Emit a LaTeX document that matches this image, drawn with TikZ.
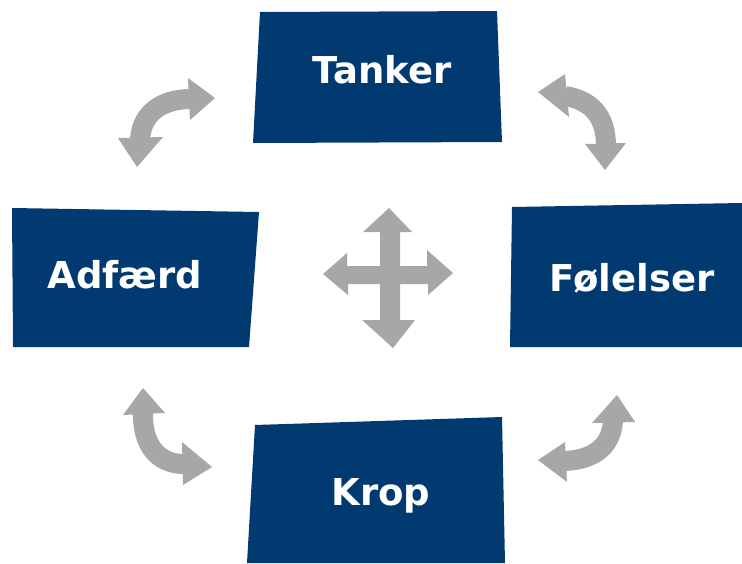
\documentclass[tikz,border=0pt]{standalone}
\usepackage{fontspec}
\setmainfont{DejaVu Sans}
\definecolor{boxblue}{RGB}{0,58,112}
\definecolor{arrowgray}{RGB}{166,168,166}
\begin{document}
\begin{tikzpicture}[x=1pt,y=-1pt,
  box/.style={fill=boxblue},
  lbl/.style={text=white,font=\fontsize{37}{40}\selectfont\bfseries,anchor=base,inner sep=0pt},
  shaft/.style={draw=arrowgray,line width=20pt,line cap=butt},
  head/.style={fill=arrowgray}]
\useasboundingbox (0,0) rectangle (742,563);
\fill[white] (0,0) rectangle (742,563);
% boxes
\fill[box] (260,12) -- (497,11) -- (502,142) -- (253,143) -- cycle;
\fill[box] (12,208) -- (259,212) -- (249,347) -- (13,347) -- cycle;
\fill[box] (512,207) -- (742,203) -- (742,347) -- (510,347) -- cycle;
\fill[box] (255,425) -- (502,417) -- (505,563) -- (247,563) -- cycle;
\node[lbl] (tanker) at (382,83) {Tanker};
\node[lbl] (adfaerd) at (125,288) {Adfærd};
\node[lbl] (folelser) at (632,291) {Følelser};
\node[lbl] (krop) at (381,505) {Krop};
% top-left arrow
\draw[shaft] (140,139) .. controls (142,112) and (163,99) .. (191,99);
\fill[head] (215,98) -- (188,78) -- (190,120) -- cycle;
\fill[head] (137,167) -- (118,138) -- (163,137) -- cycle;
% top-right arrow
\draw[shaft] (565,96) .. controls (590,100) and (606,115) .. (606,146);
\fill[head] (538,92) -- (565,74) -- (569,117) -- cycle;
\fill[head] (605,170) -- (585,144) -- (626,143) -- cycle;
% bottom-left arrow
\draw[shaft] (143,412) .. controls (142,445) and (158,464) .. (184,464);
\fill[head] (143,388) -- (123,415) -- (165,413) -- cycle;
\fill[head] (212,467) -- (182,442) -- (183,485) -- cycle;
% bottom-right arrow
\draw[shaft] (564,461) .. controls (595,460) and (612,445) .. (613,420);
\fill[head] (617,395) -- (592,423) -- (635,422) -- cycle;
\fill[head] (538,460) -- (565,442) -- (567,482) -- cycle;
% centre cross
\fill[arrowgray] (389,208) -- (412,232) -- (400,232) -- (400,266) -- (427,266) -- (427,250)
  -- (453,273) -- (428,295) -- (428,284) -- (400,284) -- (400,320) -- (415,320)
  -- (393,348) -- (362,320) -- (380,320) -- (380,284) -- (348,284) -- (348,295)
  -- (323,274) -- (347,253) -- (347,266) -- (380,266) -- (380,232) -- (363,232) -- cycle;
\end{tikzpicture}
\end{document}
